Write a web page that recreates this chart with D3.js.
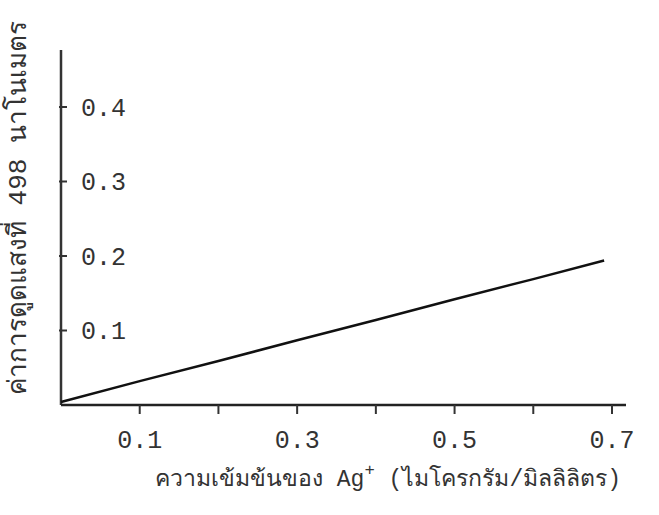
<!DOCTYPE html>
<html><head><meta charset="utf-8">
<script src="https://cdn.jsdelivr.net/npm/d3@7"></script>
<style>body{margin:0;background:#fff}svg{display:block}</style>
</head><body>
<script>
const xVals = [0, 0.1, 0.2, 0.3, 0.4, 0.5, 0.6, 0.69];
const yVals = [0.004, 0.032, 0.059, 0.087, 0.114, 0.142, 0.169, 0.194];
const xTicks = [0.1, 0.2, 0.3, 0.4, 0.5, 0.6, 0.7];
const xTickLabels = [0.1, 0.3, 0.5, 0.7];
const yTicks = [0.1, 0.2, 0.3, 0.4];
const xTitle = "ความเข้มข้นของ ";
const yTitle = "ค่าการดูดแสงที่ 498 นาโนเมตร";

const W = 659, H = 515;
const svg = d3.select("body").append("svg").attr("width", W).attr("height", H);
const mono = "'Liberation Mono','DejaVu Sans Mono',monospace";
const x = d3.scaleLinear().domain([0, 0.7]).range([61, 612]);
const y = d3.scaleLinear().domain([0, 0.4]).range([405, 107]);

// axes lines
svg.append("line").attr("x1", x(0)).attr("x2", x(0)).attr("y1", 50).attr("y2", y(0))
  .attr("stroke", "#333").attr("stroke-width", 2.5);
svg.append("line").attr("x1", x(0)).attr("x2", 626).attr("y1", y(0)).attr("y2", y(0))
  .attr("stroke", "#222").attr("stroke-width", 2.5);

// y ticks
const yg = svg.append("g").attr("transform", `translate(${x(0)},0)`);
yTicks.forEach(t => {
  yg.append("line").attr("x1", -2).attr("x2", 6).attr("y1", y(t)).attr("y2", y(t))
    .attr("stroke", "#333").attr("stroke-width", 2);
  yg.append("text").attr("x", 20).attr("y", y(t)).attr("dy", "0.35em")
    .attr("font-family", mono).attr("font-size", 25).attr("fill", "#333").text(t.toFixed(1));
});
// x ticks
xTicks.forEach(t => {
  svg.append("line").attr("x1", x(t)).attr("x2", x(t)).attr("y1", y(0)).attr("y2", y(0) + 9)
    .attr("stroke", "#333").attr("stroke-width", 2);
});
xTickLabels.forEach(t => {
  svg.append("text").attr("x", x(t)).attr("y", 448).attr("text-anchor", "middle")
    .attr("font-family", mono).attr("font-size", 25).attr("fill", "#333").text(t.toFixed(1));
});

// line
const line = d3.line().x((d, i) => x(xVals[i])).y(d => y(d));
svg.append("path").datum(yVals).attr("d", line).attr("fill", "none")
  .attr("stroke", "#111").attr("stroke-width", 2.5);

// x title
const xt = svg.append("text").attr("x", 155).attr("y", 486)
  .attr("font-family", mono).attr("font-size", 24).attr("fill", "#333");
xt.append("tspan").text(xTitle);
xt.append("tspan").text("Ag");
xt.append("tspan").attr("dy", -11).attr("font-size", 18).text("+");
xt.append("tspan").attr("dy", 11).text("  (ไมโครกรัม/มิลลิลิตร)");
{
  const len = xt.node().getComputedTextLength();
  const target = 468;
  const k = target / len;
  xt.attr("font-size", 24 * k);
  xt.selectAll("tspan").each(function(){
    const fs = d3.select(this).attr("font-size");
    if (fs) d3.select(this).attr("font-size", fs * k);
  });
}

// y title
const yt = svg.append("text").attr("transform", "translate(26,208) rotate(-90)").attr("text-anchor", "middle")
  .attr("font-family", mono).attr("font-size", 24).attr("fill", "#333").text(yTitle);
{
  const len = yt.node().getComputedTextLength();
  yt.attr("font-size", 24 * 372 / len);
}
</script>
</body></html>
